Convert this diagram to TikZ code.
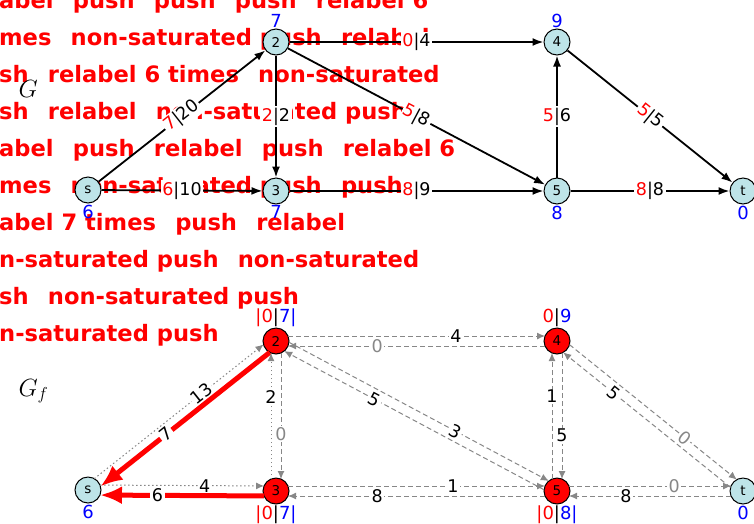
\documentclass[tikz,border=0pt]{standalone}
\usepackage{fontspec}
\setmainfont{DejaVu Sans}
\usepackage{xcolor}
\usetikzlibrary{arrows.meta,calc}
\definecolor{cyanpale}{RGB}{190,228,232}
\definecolor{grisres}{RGB}{135,135,135}
\newcommand{\sep}{\hspace{0.85em}}

\begin{document}
\begin{tikzpicture}[x=1pt,y=-1pt,
  vertex/.style={circle, draw=black, line width=1pt, fill=cyanpale,
                 minimum size=26pt, inner sep=0pt, label distance=3pt,
                 font=\fontsize{13.5}{13.5}\selectfont},
  active/.style={vertex, fill=red},
  hgt/.style={text=blue, inner sep=1pt, font=\fontsize{18}{18}\selectfont},
  exc/.style={inner sep=1pt, font=\fontsize{18}{18}\selectfont},
  flow/.style={line width=1.8pt, -{Latex[length=11pt,width=8pt]}},
  capbox/.style={fill=white, inner sep=1.5pt, font=\fontsize{17.5}{17.5}\selectfont},
  zerobox/.style={capbox, text=grisres},
  res/.style={draw=grisres, line width=1pt, dash pattern=on 5pt off 3pt,
              -{Latex[length=8pt,width=7pt]}, shorten <=12pt, shorten >=12pt},
  resdot/.style={res, dash pattern=on 1.5pt off 2.5pt},
  push/.style={draw=red, line width=5pt, -{Latex[length=22pt,width=18pt]},
               shorten <=12pt, shorten >=12pt},
  msg/.style={anchor=base west, inner sep=0pt, text=red,
              font=\fontsize{22.6}{22.6}\selectfont\bfseries},
]
\useasboundingbox (0,0) rectangle (754,523);
\clip (0,0) rectangle (754,523);

% operations log (behind the graphs)
\node[msg] (op1) at (-1,8) {abel\sep push\sep push\sep push\sep relabel 6};
\node[msg] (op2) at (-1,45) {mes\sep non-saturated push\sep relabel};
\node[msg] (op3) at (-1,82) {sh\sep relabel 6 times\sep non-saturated};
\node[msg] (op4) at (-1,119) {sh\sep relabel\sep non-saturated push};
\node[msg] (op5) at (-1,156) {abel\sep push\sep relabel\sep push\sep relabel 6};
\node[msg] (op6) at (-1,193) {mes\sep non-saturated push\sep push};
\node[msg] (op7) at (-1,230) {abel 7 times\sep push\sep relabel};
\node[msg] (op8) at (-1,267) {n-saturated push\sep non-saturated};
\node[msg] (op9) at (-1,304) {sh\sep non-saturated push};
\node[msg] (op10) at (-1,341) {n-saturated push};

\node[anchor=base west, font=\fontsize{25}{25}\selectfont] (gname) at (15,97) {$G$};
\node[anchor=base west, font=\fontsize{25}{25}\selectfont] (gfname) at (15,396) {$G_f$};

% flow network G
\node[vertex, label={[hgt]below:6}] (s) at (88,190) {s};
\node[vertex, label={[hgt]above:7}] (n2) at (276,42) {2};
\node[vertex, label={[hgt]below:7}] (n3) at (276,191) {3};
\node[vertex, label={[hgt]above:9}] (n4) at (557,42) {4};
\node[vertex, label={[hgt]below:8}] (n5) at (557,191) {5};
\node[vertex, label={[hgt]below:0}] (t) at (743,191) {t};

\draw[flow] (s) -- node[capbox, sloped] {\textcolor{red}{7}|20} (n2);
\draw[flow] (s) -- node[capbox] {\textcolor{red}{6}|10} (n3);
\draw[flow] (n2) -- node[capbox] {\textcolor{red}{2}|2} (n3);
\draw[flow] (n2) -- node[capbox] {\textcolor{red}{0}|4} (n4);
\draw[flow] (n2) -- node[capbox, sloped] {\textcolor{red}{5}|8} (n5);
\draw[flow] (n3) -- node[capbox] {\textcolor{red}{8}|9} (n5);
\draw[flow] (n5) -- node[capbox] {\textcolor{red}{5}|6} (n4);
\draw[flow] (n5) -- node[capbox] {\textcolor{red}{8}|8} (t);
\draw[flow] (n4) -- node[capbox, sloped] {\textcolor{red}{5}|5} (t);

% residual network G_f
\node[vertex, label={[hgt]below:6}] (sf) at (88,490) {s};
\node[active, label={[exc]above:{\textcolor{red}{|0}|\textcolor{blue}{7|}}}] (m2) at (276,341) {2};
\node[active, label={[exc]below:{\textcolor{red}{|0}|\textcolor{blue}{7|}}}] (m3) at (276,491) {3};
\node[active, label={[exc]above:{\textcolor{red}{0}|\textcolor{blue}{9}}}] (m4) at (557,341) {4};
\node[active, label={[exc]below:{\textcolor{red}{|0}|\textcolor{blue}{8|}}}] (m5) at (557,491) {5};
\node[vertex, label={[hgt]below:0}] (tf) at (743,491) {t};

% s -- 2
\draw[resdot] ($(sf)!5pt!90:(m2)$) -- node[capbox, sloped, pos=.62] {13} ($(m2)!5pt!-90:(sf)$);
\draw[push] ($(m2)!5pt!90:(sf)$) -- node[capbox, sloped, pos=.6] {7} ($(sf)!5pt!-90:(m2)$);
% s -- 3
\draw[resdot] ($(sf)!5pt!90:(m3)$) -- node[capbox, pos=.62] {4} ($(m3)!5pt!-90:(sf)$);
\draw[push] ($(m3)!5pt!90:(sf)$) -- node[capbox, pos=.63] {6} ($(sf)!5pt!-90:(m3)$);
% 2 -- 3
\draw[res] ($(m2)!5pt!90:(m3)$) -- node[zerobox, pos=.62] {0} ($(m3)!5pt!-90:(m2)$);
\draw[resdot] ($(m3)!5pt!90:(m2)$) -- node[capbox, pos=.63] {2} ($(m2)!5pt!-90:(m3)$);
% 2 -- 4
\draw[res] ($(m2)!5pt!90:(m4)$) -- node[capbox, pos=.64] {4} ($(m4)!5pt!-90:(m2)$);
\draw[res] ($(m4)!5pt!90:(m2)$) -- node[zerobox, pos=.64] {0} ($(m2)!5pt!-90:(m4)$);
% 2 -- 5
\draw[res] ($(m2)!5pt!90:(m5)$) -- node[capbox, sloped, pos=.63] {3} ($(m5)!5pt!-90:(m2)$);
\draw[res] ($(m5)!5pt!90:(m2)$) -- node[capbox, sloped, pos=.64] {5} ($(m2)!5pt!-90:(m5)$);
% 3 -- 5
\draw[res] ($(m3)!5pt!90:(m5)$) -- node[capbox, pos=.63] {1} ($(m5)!5pt!-90:(m3)$);
\draw[res] ($(m5)!5pt!90:(m3)$) -- node[capbox, pos=.64] {8} ($(m3)!5pt!-90:(m5)$);
% 5 -- 4
\draw[res] ($(m5)!5pt!90:(m4)$) -- node[capbox, pos=.63] {1} ($(m4)!5pt!-90:(m5)$);
\draw[res] ($(m4)!5pt!90:(m5)$) -- node[capbox, pos=.63] {5} ($(m5)!5pt!-90:(m4)$);
% 4 -- t
\draw[res] ($(m4)!5pt!90:(tf)$) -- node[zerobox, sloped, pos=.67] {0} ($(tf)!5pt!-90:(m4)$);
\draw[res] ($(tf)!5pt!90:(m4)$) -- node[capbox, sloped, pos=.68] {5} ($(m4)!5pt!-90:(tf)$);
% 5 -- t
\draw[res] ($(m5)!5pt!90:(tf)$) -- node[zerobox, pos=.63] {0} ($(tf)!5pt!-90:(m5)$);
\draw[res] ($(tf)!5pt!90:(m5)$) -- node[capbox, pos=.63] {8} ($(m5)!5pt!-90:(tf)$);
\end{tikzpicture}
\end{document}
